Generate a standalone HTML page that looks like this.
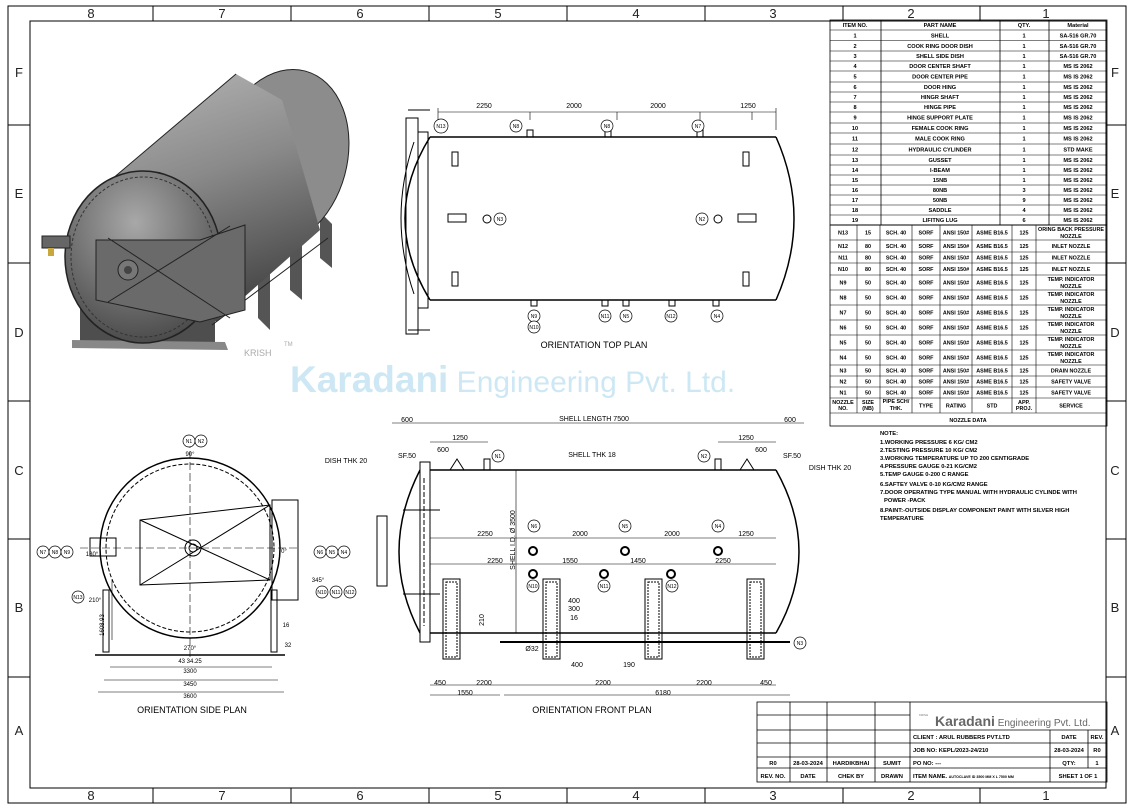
<!DOCTYPE html>
<html><head><meta charset="utf-8"><style>
html,body{margin:0;padding:0;background:#fff}
svg{display:block;font-family:"Liberation Sans",sans-serif}
</style></head><body>
<svg width="1132" height="809" viewBox="0 0 1132 809" xmlns="http://www.w3.org/2000/svg">
<defs>
<linearGradient id="g1" x1="0" y1="0" x2="0.3" y2="1"><stop offset="0" stop-color="#b8b8b8"/><stop offset="0.5" stop-color="#8a8a8a"/><stop offset="1" stop-color="#4a4a4a"/></linearGradient>
<radialGradient id="g2" cx="0.45" cy="0.3" r="0.8"><stop offset="0" stop-color="#a8a8a8"/><stop offset="1" stop-color="#3e3e3e"/></radialGradient>
</defs>
<rect x="0" y="0" width="1132" height="809" fill="#fff"/>
<rect x="8" y="6" width="1118" height="797" fill="none" stroke="#000" stroke-width="1"/>
<rect x="30" y="21" width="1076" height="767" fill="none" stroke="#000" stroke-width="1"/>
<g stroke="#000" stroke-width="1">
<line x1="153" y1="6" x2="153" y2="21"/><line x1="291" y1="6" x2="291" y2="21"/><line x1="429" y1="6" x2="429" y2="21"/><line x1="567" y1="6" x2="567" y2="21"/><line x1="705" y1="6" x2="705" y2="21"/><line x1="843" y1="6" x2="843" y2="21"/><line x1="980" y1="6" x2="980" y2="21"/>
<line x1="153" y1="788" x2="153" y2="803"/><line x1="291" y1="788" x2="291" y2="803"/><line x1="429" y1="788" x2="429" y2="803"/><line x1="567" y1="788" x2="567" y2="803"/><line x1="705" y1="788" x2="705" y2="803"/><line x1="843" y1="788" x2="843" y2="803"/><line x1="980" y1="788" x2="980" y2="803"/>
<line x1="8" y1="125" x2="30" y2="125"/><line x1="8" y1="263" x2="30" y2="263"/><line x1="8" y1="401" x2="30" y2="401"/><line x1="8" y1="539" x2="30" y2="539"/><line x1="8" y1="677" x2="30" y2="677"/>
<line x1="1106" y1="125" x2="1126" y2="125"/><line x1="1106" y1="263" x2="1126" y2="263"/><line x1="1106" y1="401" x2="1126" y2="401"/><line x1="1106" y1="539" x2="1126" y2="539"/><line x1="1106" y1="677" x2="1126" y2="677"/>
</g>
<g font-size="13" text-anchor="middle" fill="#222">
<text x="91" y="18">8</text><text x="222" y="18">7</text><text x="360" y="18">6</text><text x="498" y="18">5</text><text x="636" y="18">4</text><text x="773" y="18">3</text><text x="911" y="18">2</text><text x="1046" y="18">1</text>
<text x="91" y="800">8</text><text x="222" y="800">7</text><text x="360" y="800">6</text><text x="498" y="800">5</text><text x="636" y="800">4</text><text x="773" y="800">3</text><text x="911" y="800">2</text><text x="1046" y="800">1</text>
<text x="19" y="77">F</text><text x="19" y="198">E</text><text x="19" y="337">D</text><text x="19" y="475">C</text><text x="19" y="612">B</text><text x="19" y="735">A</text>
<text x="1115" y="77">F</text><text x="1115" y="198">E</text><text x="1115" y="337">D</text><text x="1115" y="475">C</text><text x="1115" y="612">B</text><text x="1115" y="735">A</text>
</g>

<!-- 3D view -->
<g>
<polygon points="258,250 270,262 270,330 258,318" fill="#555"/>
<polygon points="290,232 302,244 302,300 290,290" fill="#555"/>
<polygon points="320,212 332,224 332,268 320,258" fill="#555"/>
<polygon points="80,300 215,300 215,345 80,345" fill="#4e4e4e"/>
<polygon points="72,340 225,342 228,350 72,348" fill="#888"/>
<ellipse cx="282" cy="158" rx="65" ry="90" transform="rotate(15 282 158)" fill="#8c8c8c" stroke="#222"/>
<polygon points="92,196 236,74 282,100 300,160 320,230 216,322" fill="url(#g1)"/>
<line x1="92" y1="196" x2="236" y2="74" stroke="#222"/>
<line x1="212" y1="325" x2="328" y2="238" stroke="#222"/>
<ellipse cx="143" cy="257" rx="78" ry="86" fill="url(#g2)" stroke="#222" stroke-width="1.5"/>
<ellipse cx="143" cy="257" rx="72" ry="80" fill="none" stroke="#333" stroke-dasharray="3,2"/>
<polygon points="96,240 200,240 245,225 245,310 200,322 96,300" fill="#6a6a6a" stroke="#222"/>
<line x1="108" y1="238" x2="230" y2="318" stroke="#222"/><line x1="108" y1="302" x2="230" y2="226" stroke="#222"/>
<circle cx="128" cy="270" r="10" fill="#777" stroke="#222"/><circle cx="128" cy="270" r="4" fill="#444"/>
<rect x="42" y="236" width="28" height="12" fill="#666" stroke="#222"/><rect x="48" y="248" width="6" height="8" fill="#c8a83c"/>
<text x="244" y="356" font-size="9" fill="#aaa">KRISH</text><text x="284" y="346" font-size="6" fill="#aaa">TM</text>
</g>

<text x="290" y="392" font-size="37" fill="#cde8f4"><tspan font-weight="bold">Karadani</tspan><tspan font-size="30"> Engineering Pvt. Ltd.</tspan></text>

<!-- TOP PLAN -->
<g fill="none" stroke="#000" stroke-width="1">
<line x1="430" y1="137" x2="776" y2="137" stroke-width="1.5"/>
<line x1="430" y1="300" x2="776" y2="300" stroke-width="1.5"/>
<path d="M776,137 Q812,218 776,300" stroke-width="1.5"/>
<path d="M430,137 Q380,218 430,300" stroke-width="1.5"/>
<path d="M414,142 Q388,218 414,294"/>
<rect x="406" y="118" width="12" height="216"/>
<rect x="418" y="132" width="10" height="176"/>
<line x1="408" y1="330" x2="430" y2="330"/><line x1="408" y1="110" x2="430" y2="110"/>
<line x1="438" y1="130" x2="438" y2="108" stroke-width="0.6"/><line x1="776" y1="130" x2="776" y2="108" stroke-width="0.6"/>
<line x1="438" y1="112" x2="776" y2="112" stroke-width="0.6"/>
<line x1="530" y1="112" x2="530" y2="120" stroke-width="0.6"/><line x1="617" y1="112" x2="617" y2="120" stroke-width="0.6"/><line x1="700" y1="112" x2="700" y2="120" stroke-width="0.6"/><line x1="752" y1="112" x2="752" y2="120" stroke-width="0.6"/>
<rect x="452" y="152" width="6" height="14"/><rect x="743" y="152" width="6" height="14"/>
<rect x="452" y="272" width="6" height="14"/><rect x="743" y="272" width="6" height="14"/>
<rect x="448" y="214" width="18" height="8"/><rect x="738" y="214" width="18" height="8"/>
<circle cx="487" cy="219" r="4"/><circle cx="718" cy="219" r="4"/>
<rect x="527" y="130" width="6" height="7"/><rect x="605" y="130" width="6" height="7"/><rect x="697" y="130" width="6" height="7"/>
<rect x="531" y="300" width="6" height="6"/><rect x="602" y="300" width="6" height="6"/><rect x="623" y="300" width="6" height="6"/><rect x="669" y="300" width="6" height="6"/><rect x="713" y="300" width="6" height="6"/>
</g>
<g font-size="7" text-anchor="middle">
<text x="484" y="108">2250</text><text x="574" y="108">2000</text><text x="658" y="108">2000</text><text x="748" y="108">1250</text>
<g fill="#fff" stroke="#000" stroke-width="0.7">
<circle cx="441" cy="126" r="7"/><circle cx="516" cy="126" r="6"/><circle cx="607" cy="126" r="6"/><circle cx="698" cy="126" r="6"/>
<circle cx="534" cy="316" r="6"/><circle cx="534" cy="327" r="6"/><circle cx="605" cy="316" r="6"/><circle cx="626" cy="316" r="6"/><circle cx="671" cy="316" r="6"/><circle cx="717" cy="316" r="6"/>
<circle cx="702" cy="219" r="6"/><circle cx="500" cy="219" r="6"/>
</g>
<g font-size="5"><text x="441" y="128">N13</text><text x="516" y="128">N8</text><text x="607" y="128">N8</text><text x="698" y="128">N7</text>
<text x="534" y="318">N9</text><text x="534" y="329">N10</text><text x="605" y="318">N11</text><text x="626" y="318">N5</text><text x="671" y="318">N12</text><text x="717" y="318">N4</text><text x="702" y="221">N2</text><text x="500" y="221">N3</text></g>
</g>
<text x="594" y="348" font-size="9" text-anchor="middle">ORIENTATION TOP PLAN</text>

<!-- FRONT PLAN -->
<g fill="none" stroke="#000" stroke-width="1">
<line x1="430" y1="470" x2="776" y2="470" stroke-width="1.5"/>
<line x1="430" y1="633" x2="776" y2="633" stroke-width="1.5"/>
<path d="M776,470 Q822,552 776,633" stroke-width="1.5"/>
<path d="M420,470 Q378,552 420,633" stroke-width="1.5"/>
<rect x="420" y="462" width="10" height="180" fill="#fff"/>
<line x1="424" y1="478" x2="424" y2="626" stroke-dasharray="5,2"/>
<rect x="377" y="516" width="10" height="70"/>
<line x1="403" y1="510" x2="440" y2="510"/><line x1="403" y1="594" x2="440" y2="594"/>
<rect x="443" y="579" width="17" height="80"/><rect x="446" y="582" width="11" height="75" stroke-dasharray="2,1"/>
<rect x="543" y="579" width="17" height="80"/><rect x="546" y="582" width="11" height="75" stroke-dasharray="2,1"/>
<rect x="645" y="579" width="17" height="80"/><rect x="648" y="582" width="11" height="75" stroke-dasharray="2,1"/>
<rect x="747" y="579" width="17" height="80"/><rect x="750" y="582" width="11" height="75" stroke-dasharray="2,1"/>
<line x1="500" y1="642" x2="790" y2="642" stroke-width="2"/>
<line x1="516" y1="470" x2="516" y2="633" stroke-width="0.6"/>
<g stroke-width="0.6">
<line x1="430" y1="423" x2="776" y2="423"/><line x1="392" y1="423" x2="430" y2="423"/><line x1="776" y1="423" x2="804" y2="423"/>
<line x1="430" y1="442" x2="488" y2="442"/><line x1="718" y1="442" x2="776" y2="442"/>
<line x1="430" y1="538" x2="776" y2="538"/><line x1="430" y1="564" x2="776" y2="564"/>
<line x1="430" y1="685" x2="776" y2="685"/><line x1="430" y1="695" x2="500" y2="695"/><line x1="504" y1="695" x2="790" y2="695"/>
</g>
<polygon points="450,470 457,459 464,470" /><polygon points="740,470 747,459 754,470"/>
<rect x="484" y="459" width="6" height="11"/><rect x="715" y="459" width="6" height="11"/>
<circle cx="533" cy="551" r="4" stroke-width="2"/><circle cx="625" cy="551" r="4" stroke-width="2"/><circle cx="718" cy="551" r="4" stroke-width="2"/>
<circle cx="533" cy="574" r="4" stroke-width="2"/><circle cx="604" cy="574" r="4" stroke-width="2"/><circle cx="671" cy="574" r="4" stroke-width="2"/>
</g>
<g font-size="7" text-anchor="middle">
<text x="407" y="422">600</text><text x="594" y="421">SHELL LENGTH 7500</text><text x="790" y="422">600</text>
<text x="460" y="440">1250</text><text x="746" y="440">1250</text><text x="443" y="452">600</text><text x="761" y="452">600</text>
<text x="407" y="458">SF.50</text><text x="792" y="458">SF.50</text><text x="346" y="463">DISH THK 20</text><text x="830" y="470">DISH THK 20</text>
<text x="592" y="457">SHELL THK 18</text>
<text x="485" y="536">2250</text><text x="580" y="536">2000</text><text x="672" y="536">2000</text><text x="746" y="536">1250</text>
<text x="495" y="563">2250</text><text x="570" y="563">1550</text><text x="638" y="563">1450</text><text x="723" y="563">2250</text>
<text x="574" y="603">400</text><text x="574" y="611">300</text><text x="574" y="620">16</text>
<text x="532" y="651">Ø32</text><text x="577" y="667">400</text><text x="629" y="667">190</text>
<text x="440" y="685">450</text><text x="484" y="685">2200</text><text x="603" y="685">2200</text><text x="704" y="685">2200</text><text x="766" y="685">450</text>
<text x="465" y="695">1550</text><text x="663" y="695">6180</text>
<text x="515" y="540" transform="rotate(-90 515 540)">SHELL I.D. Ø 3500</text>
<text x="484" y="620" transform="rotate(-90 484 620)">210</text>
<g fill="#fff" stroke="#000" stroke-width="0.7">
<circle cx="498" cy="456" r="6"/><circle cx="704" cy="456" r="6"/>
<circle cx="534" cy="526" r="6"/><circle cx="625" cy="526" r="6"/><circle cx="718" cy="526" r="6"/>
<circle cx="533" cy="586" r="6"/><circle cx="604" cy="586" r="6"/><circle cx="672" cy="586" r="6"/><circle cx="800" cy="643" r="6"/>
</g>
<g font-size="5"><text x="498" y="458">N1</text><text x="704" y="458">N2</text><text x="534" y="528">N6</text><text x="625" y="528">N5</text><text x="718" y="528">N4</text><text x="533" y="588">N10</text><text x="604" y="588">N11</text><text x="672" y="588">N12</text><text x="800" y="645">N3</text></g>
</g>
<text x="592" y="713" font-size="9" text-anchor="middle">ORIENTATION FRONT PLAN</text>

<!-- SIDE PLAN -->
<g fill="none" stroke="#000" stroke-width="1">
<circle cx="190" cy="548" r="90" stroke-width="1.5"/>
<circle cx="190" cy="548" r="84" stroke-dasharray="4,2"/>
<polygon points="140,520 270,505 270,580 140,585"/>
<line x1="140" y1="520" x2="270" y2="580"/><line x1="140" y1="585" x2="270" y2="505"/>
<circle cx="193" cy="548" r="8"/><circle cx="193" cy="548" r="4"/>
<rect x="90" y="538" width="26" height="18"/><rect x="272" y="500" width="26" height="100"/>
<rect x="103" y="590" width="6" height="62"/><rect x="271" y="590" width="6" height="62"/>
<line x1="95" y1="655" x2="285" y2="655" stroke-width="1.5"/>
<g stroke-width="0.6">
<line x1="110" y1="667" x2="272" y2="667"/><line x1="104" y1="680" x2="278" y2="680"/><line x1="98" y1="692" x2="284" y2="692"/>
<line x1="190" y1="440" x2="190" y2="660" stroke-dasharray="8,3"/><line x1="80" y1="548" x2="300" y2="548" stroke-dasharray="8,3"/>
<line x1="112" y1="580" x2="112" y2="640"/>
</g>
</g>
<g font-size="6" text-anchor="middle">
<text x="190" y="456">90°</text><text x="190" y="650">270°</text><text x="92" y="556">180°</text><text x="284" y="553">0°</text><text x="318" y="582">345°</text><text x="95" y="602">210°</text>
<text x="190" y="663">43 34.25</text>
<text x="190" y="673">3300</text><text x="190" y="686">3450</text><text x="190" y="698">3600</text>
<text x="286" y="627">16</text><text x="288" y="647">32</text>
<text x="104" y="625" transform="rotate(-90 104 625)">1608.93</text>
<g fill="#fff" stroke="#000" stroke-width="0.7">
<circle cx="189" cy="441" r="6"/><circle cx="201" cy="441" r="6"/>
<circle cx="43" cy="552" r="6"/><circle cx="55" cy="552" r="6"/><circle cx="67" cy="552" r="6"/>
<circle cx="78" cy="597" r="6"/>
<circle cx="320" cy="552" r="6"/><circle cx="332" cy="552" r="6"/><circle cx="344" cy="552" r="6"/>
<circle cx="322" cy="592" r="6"/><circle cx="336" cy="592" r="6"/><circle cx="350" cy="592" r="6"/>
</g>
<g font-size="5"><text x="189" y="443">N1</text><text x="201" y="443">N2</text><text x="43" y="554">N7</text><text x="55" y="554">N8</text><text x="67" y="554">N9</text><text x="78" y="599">N13</text><text x="320" y="554">N6</text><text x="332" y="554">N5</text><text x="344" y="554">N4</text><text x="322" y="594">N10</text><text x="336" y="594">N11</text><text x="350" y="594">N12</text></g>
</g>
<text x="192" y="713" font-size="9" text-anchor="middle">ORIENTATION SIDE PLAN</text>

<!-- PARTS TABLE -->
<g stroke="#000" stroke-width="0.8" fill="none">
<rect x="830" y="20" width="277" height="406"/>
<line x1="881" y1="20" x2="881" y2="225"/><line x1="1000" y1="20" x2="1000" y2="225"/><line x1="1049" y1="20" x2="1049" y2="225"/>
</g>
<g stroke="#000" stroke-width="0.6">
<line x1="830" y1="30" x2="1107" y2="30"/><line x1="830" y1="40.5" x2="1107" y2="40.5"/><line x1="830" y1="51" x2="1107" y2="51"/><line x1="830" y1="61" x2="1107" y2="61"/><line x1="830" y1="71" x2="1107" y2="71"/><line x1="830" y1="82" x2="1107" y2="82"/><line x1="830" y1="92" x2="1107" y2="92"/><line x1="830" y1="102" x2="1107" y2="102"/><line x1="830" y1="112" x2="1107" y2="112"/><line x1="830" y1="123" x2="1107" y2="123"/><line x1="830" y1="133" x2="1107" y2="133"/><line x1="830" y1="144" x2="1107" y2="144"/><line x1="830" y1="155" x2="1107" y2="155"/><line x1="830" y1="165" x2="1107" y2="165"/><line x1="830" y1="175" x2="1107" y2="175"/><line x1="830" y1="185" x2="1107" y2="185"/><line x1="830" y1="195" x2="1107" y2="195"/><line x1="830" y1="205" x2="1107" y2="205"/><line x1="830" y1="215" x2="1107" y2="215"/><line x1="830" y1="225" x2="1107" y2="225" stroke-width="0.9"/>
</g>
<g font-size="5.6" font-weight="bold" text-anchor="middle">
<text x="855" y="27">ITEM NO.</text><text x="940" y="27">PART NAME</text><text x="1024" y="27">QTY.</text><text x="1078" y="27">Material</text>
<g><text x="855" y="37.5">1</text><text x="855" y="48">2</text><text x="855" y="58">3</text><text x="855" y="68">4</text><text x="855" y="78.5">5</text><text x="855" y="89">6</text><text x="855" y="99">7</text><text x="855" y="109">8</text><text x="855" y="119.5">9</text><text x="855" y="130">10</text><text x="855" y="140.5">11</text><text x="855" y="151.5">12</text><text x="855" y="162">13</text><text x="855" y="172">14</text><text x="855" y="182">15</text><text x="855" y="192">16</text><text x="855" y="202">17</text><text x="855" y="212">18</text><text x="855" y="222">19</text></g>
<g><text x="940" y="37.5">SHELL</text><text x="940" y="48">COOK RING DOOR DISH</text><text x="940" y="58">SHELL SIDE DISH</text><text x="940" y="68">DOOR CENTER SHAFT</text><text x="940" y="78.5">DOOR CENTER PIPE</text><text x="940" y="89">DOOR HING</text><text x="940" y="99">HINGR SHAFT</text><text x="940" y="109">HINGE PIPE</text><text x="940" y="119.5">HINGE SUPPORT PLATE</text><text x="940" y="130">FEMALE COOK RING</text><text x="940" y="140.5">MALE COOK RING</text><text x="940" y="151.5">HYDRAULIC CYLINDER</text><text x="940" y="162">GUSSET</text><text x="940" y="172">I-BEAM</text><text x="940" y="182">15NB</text><text x="940" y="192">80NB</text><text x="940" y="202">50NB</text><text x="940" y="212">SADDLE</text><text x="940" y="222">LIFITNG LUG</text></g>
<g><text x="1024" y="37.5">1</text><text x="1024" y="48">1</text><text x="1024" y="58">1</text><text x="1024" y="68">1</text><text x="1024" y="78.5">1</text><text x="1024" y="89">1</text><text x="1024" y="99">1</text><text x="1024" y="109">1</text><text x="1024" y="119.5">1</text><text x="1024" y="130">1</text><text x="1024" y="140.5">1</text><text x="1024" y="151.5">1</text><text x="1024" y="162">1</text><text x="1024" y="172">1</text><text x="1024" y="182">1</text><text x="1024" y="192">3</text><text x="1024" y="202">9</text><text x="1024" y="212">4</text><text x="1024" y="222">6</text></g>
<g><text x="1078" y="37.5">SA-516 GR.70</text><text x="1078" y="48">SA-516 GR.70</text><text x="1078" y="58">SA-516 GR.70</text><text x="1078" y="68">MS IS 2062</text><text x="1078" y="78.5">MS IS 2062</text><text x="1078" y="89">MS IS 2062</text><text x="1078" y="99">MS IS 2062</text><text x="1078" y="109">MS IS 2062</text><text x="1078" y="119.5">MS IS 2062</text><text x="1078" y="130">MS IS 2062</text><text x="1078" y="140.5">MS IS 2062</text><text x="1078" y="151.5">STD MAKE</text><text x="1078" y="162">MS IS 2062</text><text x="1078" y="172">MS IS 2062</text><text x="1078" y="182">MS IS 2062</text><text x="1078" y="192">MS IS 2062</text><text x="1078" y="202">MS IS 2062</text><text x="1078" y="212">MS IS 2062</text><text x="1078" y="222">MS IS 2062</text></g>
</g>

<!-- NOZZLE TABLE -->
<g stroke="#000" stroke-width="0.6">
<line x1="857" y1="225" x2="857" y2="413"/><line x1="880" y1="225" x2="880" y2="413"/><line x1="912" y1="225" x2="912" y2="413"/><line x1="940" y1="225" x2="940" y2="413"/><line x1="972" y1="225" x2="972" y2="413"/><line x1="1012" y1="225" x2="1012" y2="413"/><line x1="1036" y1="225" x2="1036" y2="413"/>
<line x1="830" y1="240" x2="1107" y2="240"/><line x1="830" y1="252" x2="1107" y2="252"/><line x1="830" y1="263" x2="1107" y2="263"/><line x1="830" y1="275" x2="1107" y2="275"/><line x1="830" y1="290" x2="1107" y2="290"/><line x1="830" y1="305" x2="1107" y2="305"/><line x1="830" y1="320" x2="1107" y2="320"/><line x1="830" y1="335" x2="1107" y2="335"/><line x1="830" y1="350" x2="1107" y2="350"/><line x1="830" y1="365" x2="1107" y2="365"/><line x1="830" y1="376" x2="1107" y2="376"/><line x1="830" y1="387" x2="1107" y2="387"/><line x1="830" y1="398" x2="1107" y2="398"/><line x1="830" y1="413" x2="1107" y2="413"/>
</g>
<g font-size="5.4" font-weight="bold" text-anchor="middle">
<text x="843" y="234.5">N13</text><text x="868" y="234.5">15</text><text x="896" y="234.5">SCH. 40</text><text x="926" y="234.5">SORF</text><text x="956" y="234.5">ANSI 150#</text><text x="992" y="234.5">ASME B16.5</text><text x="1024" y="234.5">125</text><text x="1071" y="231">ORING BACK PRESSURE</text><text x="1071" y="238">NOZZLE</text>
<text x="843" y="248">N12</text><text x="868" y="248">80</text><text x="896" y="248">SCH. 40</text><text x="926" y="248">SORF</text><text x="956" y="248">ANSI 150#</text><text x="992" y="248">ASME B16.5</text><text x="1024" y="248">125</text><text x="1071" y="248">INLET NOZZLE</text>
<text x="843" y="259.5">N11</text><text x="868" y="259.5">80</text><text x="896" y="259.5">SCH. 40</text><text x="926" y="259.5">SORF</text><text x="956" y="259.5">ANSI 150#</text><text x="992" y="259.5">ASME B16.5</text><text x="1024" y="259.5">125</text><text x="1071" y="259.5">INLET NOZZLE</text>
<text x="843" y="271">N10</text><text x="868" y="271">80</text><text x="896" y="271">SCH. 40</text><text x="926" y="271">SORF</text><text x="956" y="271">ANSI 150#</text><text x="992" y="271">ASME B16.5</text><text x="1024" y="271">125</text><text x="1071" y="271">INLET NOZZLE</text>
<text x="843" y="284.5">N9</text><text x="868" y="284.5">50</text><text x="896" y="284.5">SCH. 40</text><text x="926" y="284.5">SORF</text><text x="956" y="284.5">ANSI 150#</text><text x="992" y="284.5">ASME B16.5</text><text x="1024" y="284.5">125</text><text x="1071" y="281">TEMP. INDICATOR</text><text x="1071" y="288">NOZZLE</text>
<text x="843" y="299.5">N8</text><text x="868" y="299.5">50</text><text x="896" y="299.5">SCH. 40</text><text x="926" y="299.5">SORF</text><text x="956" y="299.5">ANSI 150#</text><text x="992" y="299.5">ASME B16.5</text><text x="1024" y="299.5">125</text><text x="1071" y="296">TEMP. INDICATOR</text><text x="1071" y="303">NOZZLE</text>
<text x="843" y="314.5">N7</text><text x="868" y="314.5">50</text><text x="896" y="314.5">SCH. 40</text><text x="926" y="314.5">SORF</text><text x="956" y="314.5">ANSI 150#</text><text x="992" y="314.5">ASME B16.5</text><text x="1024" y="314.5">125</text><text x="1071" y="311">TEMP. INDICATOR</text><text x="1071" y="318">NOZZLE</text>
<text x="843" y="329.5">N6</text><text x="868" y="329.5">50</text><text x="896" y="329.5">SCH. 40</text><text x="926" y="329.5">SORF</text><text x="956" y="329.5">ANSI 150#</text><text x="992" y="329.5">ASME B16.5</text><text x="1024" y="329.5">125</text><text x="1071" y="326">TEMP. INDICATOR</text><text x="1071" y="333">NOZZLE</text>
<text x="843" y="344.5">N5</text><text x="868" y="344.5">50</text><text x="896" y="344.5">SCH. 40</text><text x="926" y="344.5">SORF</text><text x="956" y="344.5">ANSI 150#</text><text x="992" y="344.5">ASME B16.5</text><text x="1024" y="344.5">125</text><text x="1071" y="341">TEMP. INDICATOR</text><text x="1071" y="348">NOZZLE</text>
<text x="843" y="359.5">N4</text><text x="868" y="359.5">50</text><text x="896" y="359.5">SCH. 40</text><text x="926" y="359.5">SORF</text><text x="956" y="359.5">ANSI 150#</text><text x="992" y="359.5">ASME B16.5</text><text x="1024" y="359.5">125</text><text x="1071" y="356">TEMP. INDICATOR</text><text x="1071" y="363">NOZZLE</text>
<text x="843" y="372.5">N3</text><text x="868" y="372.5">50</text><text x="896" y="372.5">SCH. 40</text><text x="926" y="372.5">SORF</text><text x="956" y="372.5">ANSI 150#</text><text x="992" y="372.5">ASME B16.5</text><text x="1024" y="372.5">125</text><text x="1071" y="372.5">DRAIN NOZZLE</text>
<text x="843" y="383.5">N2</text><text x="868" y="383.5">50</text><text x="896" y="383.5">SCH. 40</text><text x="926" y="383.5">SORF</text><text x="956" y="383.5">ANSI 150#</text><text x="992" y="383.5">ASME B16.5</text><text x="1024" y="383.5">125</text><text x="1071" y="383.5">SAFETY VALVE</text>
<text x="843" y="394.5">N1</text><text x="868" y="394.5">50</text><text x="896" y="394.5">SCH. 40</text><text x="926" y="394.5">SORF</text><text x="956" y="394.5">ANSI 150#</text><text x="992" y="394.5">ASME B16.5</text><text x="1024" y="394.5">125</text><text x="1071" y="394.5">SAFETY VALVE</text>
<text x="843" y="404">NOZZLE</text><text x="843" y="410">NO.</text><text x="868" y="404">SIZE</text><text x="868" y="410">(NB)</text><text x="896" y="403">PIPE SCH/</text><text x="896" y="410">THK.</text><text x="926" y="407.5">TYPE</text><text x="956" y="407.5">RATING</text><text x="992" y="407.5">STD</text><text x="1024" y="404">APP.</text><text x="1024" y="410">PROJ.</text><text x="1071" y="407.5">SERVICE</text>
<text x="968" y="422">NOZZLE DATA</text>
</g>

<g font-size="5.8" font-weight="bold">
<text x="880" y="435">NOTE:</text>
<text x="880" y="444">1.WORKING PRESSURE  6 KG/ CM2</text>
<text x="880" y="452">2.TESTING PRESSURE  10 KG/ CM2</text>
<text x="880" y="460">3.WORKING TEMPERATURE  UP TO 200 CENTIGRADE</text>
<text x="880" y="468">4.PRESSURE GAUGE  0-21 KG/CM2</text>
<text x="880" y="476">5.TEMP GAUGE  0-200 C RANGE</text>
<text x="880" y="486">6.SAFTEY VALVE  0-10 KG/CM2 RANGE</text>
<text x="880" y="494">7.DOOR OPERATING TYPE  MANUAL WITH HYDRAULIC CYLINDE WITH</text>
<text x="884" y="502">POWER -PACK</text>
<text x="880" y="512">8.PAINT:-OUTSIDE DISPLAY COMPONENT PAINT WITH SILVER HIGH</text>
<text x="880" y="520">TEMPERATURE</text>
</g>

<g stroke="#000" stroke-width="0.8" fill="none">
<rect x="757" y="702" width="350" height="80"/>
<line x1="757" y1="715" x2="910" y2="715"/><line x1="757" y1="730" x2="1107" y2="730"/><line x1="757" y1="743" x2="1107" y2="743"/><line x1="757" y1="757" x2="1107" y2="757"/><line x1="757" y1="768" x2="1107" y2="768"/>
<line x1="790" y1="702" x2="790" y2="782"/><line x1="827" y1="702" x2="827" y2="782"/><line x1="875" y1="702" x2="875" y2="782"/><line x1="910" y1="702" x2="910" y2="782"/>
<line x1="1050" y1="730" x2="1050" y2="768"/><line x1="1088" y1="730" x2="1088" y2="768"/><line x1="1050" y1="768" x2="1050" y2="782"/>
</g>
<text x="919" y="716" font-size="3" fill="#777">KRISH</text>
<text x="935" y="726" font-size="14" fill="#666"><tspan font-weight="bold">Karadani</tspan><tspan font-size="10"> Engineering Pvt. Ltd.</tspan></text>
<g font-size="5.8" font-weight="bold">
<text x="913" y="739">CLIENT : ARUL RUBBERS PVT.LTD</text>
<text x="913" y="752">JOB NO: KEPL/2023-24/210</text>
<text x="913" y="765">PO NO:  ---</text>
<text x="913" y="778">ITEM NAME.  <tspan font-size="3.6">AUTOCLAVE ID 3500 MM X L 7500 MM</tspan></text>
<g text-anchor="middle">
<text x="1069" y="739">DATE</text><text x="1097" y="739">REV.</text>
<text x="1069" y="752">28-03-2024</text><text x="1097" y="752">R0</text>
<text x="1069" y="765">QTY:</text><text x="1097" y="765">1</text>
<text x="1078" y="778">SHEET 1 OF 1</text>
<text x="773" y="765">R0</text><text x="808" y="765">28-03-2024</text><text x="851" y="765">HARDIKBHAI</text><text x="892" y="765">SUMIT</text>
<text x="773" y="778">REV. NO.</text><text x="808" y="778">DATE</text><text x="851" y="778">CHEK BY</text><text x="892" y="778">DRAWN</text>
</g>
</g>
</svg>
</body></html>
